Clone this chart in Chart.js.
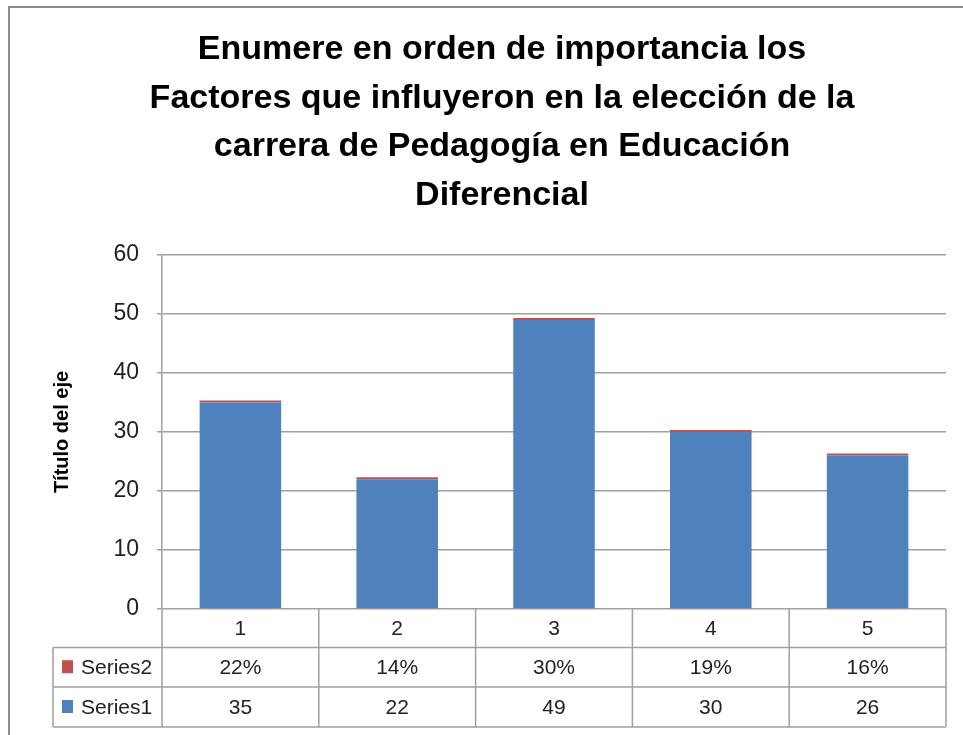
<!DOCTYPE html>
<html>
<head>
<meta charset="utf-8">
<script src="https://cdn.jsdelivr.net/npm/chart.js@4/dist/chart.umd.min.js"></script>
<style>
  html, body { margin: 0; padding: 0; background: #fff; }
  #chart { display: block; }
</style>
</head>
<body>
<canvas id="chart" width="963" height="735"></canvas>
<script>
const categories = ["1", "2", "3", "4", "5"];
const series1 = [35, 22, 49, 30, 26];
const series2 = [0.22, 0.14, 0.30, 0.19, 0.16];
const seriesNames = ["Series1", "Series2"];
const yTicks = [0, 10, 20, 30, 40, 50, 60];
const titleLines = [
    "Enumere en orden de importancia los",
    "Factores que influyeron en la elección de la",
    "carrera de Pedagogía en Educación",
    "Diferencial"
];
const axisTitle = "Título del eje";

const blue = "#4f81bd";
const red = "#c0504d";
const gridColor = "#a0a0a0";
const textColor = "#222";

// outer frame + the multi line title
const framePlugin = {
    id: "frame",
    beforeDraw(chart) {
        const ctx = chart.ctx;
        ctx.save();
        ctx.fillStyle = "#fff";
        ctx.fillRect(0, 0, chart.width, chart.height);
        ctx.strokeStyle = "#8c8c8c";
        ctx.lineWidth = 2;
        ctx.beginPath();
        ctx.moveTo(9, chart.height);
        ctx.lineTo(9, 7);
        ctx.lineTo(chart.width, 7);
        ctx.stroke();
        ctx.restore();
    },
    afterDraw(chart) {
        const ctx = chart.ctx;
        ctx.save();
        ctx.fillStyle = "#000";
        ctx.font = "bold 34px 'Liberation Sans', Arial, sans-serif";
        ctx.textAlign = "center";
        ctx.textBaseline = "alphabetic";
        titleLines.forEach((line, i) => {
            ctx.fillText(line, 502, 59 + i * 48.7);
        });
        ctx.restore();
    }
};

// data table under the plot (category row + one row per series)
const tablePlugin = {
    id: "dataTable",
    afterDraw(chart) {
        const ctx = chart.ctx;
        const xs = chart.scales.x;
        const area = chart.chartArea;
        const n = categories.length;
        const catW = (area.right - area.left) / n;
        const rows = [area.bottom, 647.5, 687, 727];
        const legLeft = 53;

        ctx.save();
        ctx.strokeStyle = gridColor;
        ctx.lineWidth = 1.5;
        ctx.beginPath();
        // horizontal lines
        ctx.moveTo(legLeft, rows[1]); ctx.lineTo(area.right, rows[1]);
        ctx.moveTo(legLeft, rows[2]); ctx.lineTo(area.right, rows[2]);
        ctx.moveTo(legLeft, rows[3]); ctx.lineTo(area.right, rows[3]);
        // vertical lines
        ctx.moveTo(legLeft, rows[1]); ctx.lineTo(legLeft, rows[3]);
        for (let k = 0; k <= n; k++) {
            const x = area.left + k * catW;
            ctx.moveTo(x, rows[0]); ctx.lineTo(x, rows[3]);
        }
        ctx.stroke();

        ctx.fillStyle = textColor;
        ctx.font = "21px 'Liberation Sans', Arial, sans-serif";
        ctx.textAlign = "center";
        ctx.textBaseline = "middle";
        categories.forEach((c, i) => {
            const x = xs.getPixelForValue(i);
            ctx.fillText(c, x, (rows[0] + rows[1]) / 2 + 1);
            ctx.fillText(Math.round(series2[i] * 100) + "%", x, (rows[1] + rows[2]) / 2 + 1);
            ctx.fillText(String(series1[i]), x, (rows[2] + rows[3]) / 2 + 1);
        });

        // legend keys in the first column
        const keyRows = [
            { name: seriesNames[1], color: red, mid: (rows[1] + rows[2]) / 2 },
            { name: seriesNames[0], color: blue, mid: (rows[2] + rows[3]) / 2 }
        ];
        ctx.textAlign = "left";
        keyRows.forEach(r => {
            ctx.fillStyle = r.color;
            ctx.fillRect(62, r.mid - 7, 11, 13);
            ctx.fillStyle = textColor;
            ctx.fillText(r.name, 81, r.mid + 1);
        });
        ctx.restore();
    }
};

new Chart(document.getElementById("chart"), {
    type: "bar",
    data: {
        labels: categories,
        datasets: [
            {
                label: seriesNames[0],
                data: series1,
                backgroundColor: blue,
                borderWidth: 0,
                barPercentage: 0.52,
                categoryPercentage: 1
            },
            {
                label: seriesNames[1],
                data: series2,
                backgroundColor: red,
                borderWidth: 0,
                minBarLength: 2,
                barPercentage: 0.52,
                categoryPercentage: 1
            }
        ]
    },
    options: {
        responsive: false,
        animation: false,
        layout: {
            padding: { left: 0, right: 17, top: 255, bottom: 8 }
        },
        plugins: {
            legend: { display: false },
            title: { display: false },
            tooltip: { enabled: false }
        },
        scales: {
            x: {
                stacked: true,
                grid: { display: false },
                border: { display: false },
                ticks: { display: false },
                afterFit(scale) { scale.height = 118; }
            },
            y: {
                stacked: true,
                min: 0,
                max: 60,
                afterBuildTicks(scale) {
                    scale.ticks = yTicks.map(v => ({ value: v }));
                },
                afterFit(scale) { scale.width = 162; },
                grid: {
                    color: gridColor,
                    lineWidth: 1.5,
                    tickLength: 5,
                    drawTicks: true
                },
                border: { color: gridColor, width: 1.5 },
                ticks: {
                    padding: 18,
                    color: textColor,
                    font: { family: "'Liberation Sans', Arial, sans-serif", size: 23 }
                },
                title: {
                    display: true,
                    text: axisTitle,
                    color: "#000",
                    font: { family: "'Liberation Sans', Arial, sans-serif", size: 20, weight: "bold" },
                    padding: { top: 50, bottom: 0 }
                }
            }
        }
    },
    plugins: [framePlugin, tablePlugin]
});
</script>
</body>
</html>
